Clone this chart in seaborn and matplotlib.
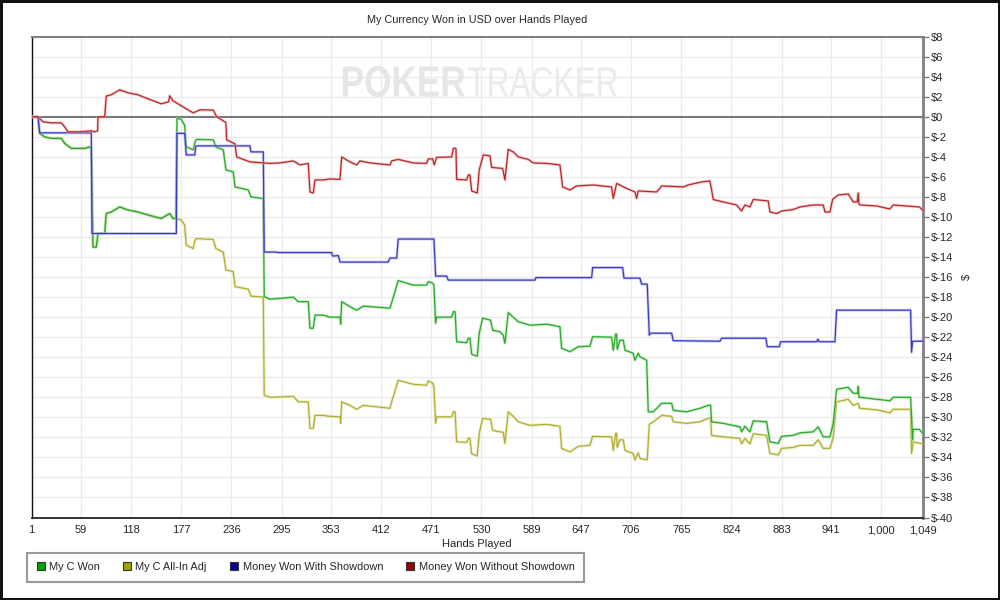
import matplotlib
matplotlib.use("Agg")
import matplotlib.pyplot as plt
import matplotlib.patheffects as pe
from matplotlib.lines import Line2D
from matplotlib.textpath import TextPath
from matplotlib.patches import PathPatch
from matplotlib.font_manager import FontProperties
from matplotlib.transforms import Affine2D
import seaborn as sns
import pandas as pd

# ---------------- data (hand number, cumulative $) ----------------
red_hands = [1, 8.4, 14.3, 24, 35.8, 39.8, 43.7, 55.5, 71.1, 75.1, 78.5, 79, 86.9, 88.7, 94.6, 104.5, 114.3, 126, 137.8,
             153.4, 162, 163.3, 167.2, 184.8, 191, 198.9, 214.6, 218.6, 228.3, 229.5, 230.3, 240.1, 242.1, 257.7, 281.3,
             293, 308.7, 316.5, 326.3, 328.3, 332.2, 334.2, 343.9, 351.8, 363.6, 365.6, 375.3, 383.2, 387.1, 398.9,
             422.4, 424.4, 432.1, 449.8, 465.5, 467.4, 472.6, 474.5, 477.3, 495, 496.9, 500, 500.8, 512.6, 514.5, 516.5,
             518.5, 525.1, 527.4, 532.1, 540, 542, 554.9, 557.6, 561.5, 567.4, 573.3, 585, 590.9, 606.7, 622.3, 625.5,
             634.1, 642, 661.5, 683.1, 685, 689, 700.8, 710.5, 712.5, 714.4, 736.1, 742, 767.4, 773.2, 788.9, 798.7,
             800.7, 802.6, 814.4, 830.1, 836, 839.9, 845.8, 849.7, 867.3, 869.3, 877.2, 883.1, 896.7, 904.6, 920.2,
             932, 934, 939.9, 943, 949.6, 961.4, 967.3, 972, 973.2, 974, 975.1, 994.8, 1010.4, 1014.3, 1030.1, 1045, 1049]
red_vals = [0, 0, -0.5, -0.6, -0.6, -1.0, -1.5, -1.5, -1.4, -1.5, -1.4, 0, 0, 2.07, 2.2, 2.7, 2.4, 2.2, 1.8,
            1.3, 1.5, 2.1, 1.6, 0.7, 0.4, 0.7, 0.67, 0, -0.5, -0.6, -2.3, -2.7, -4.0, -4.5, -4.65,
            -4.6, -4.4, -4.8, -4.65, -7.5, -7.6, -6.3, -6.3, -6.2, -6.25, -4.0, -4.5, -4.8, -4.4, -4.6,
            -4.8, -4.4, -4.25, -4.6, -4.65, -4.2, -4.2, -4.8, -4.05, -4.0, -3.15, -3.15, -6.25, -6.3, -5.8, -5.8,
            -7.4, -7.6, -5.3, -3.8, -3.9, -5.05, -5.15, -6.3, -3.25, -3.5, -4.0, -4.25, -4.6, -4.65, -4.8, -7.0,
            -7.3, -6.9, -6.8, -7.0, -8.15, -6.65, -7.15, -7.5, -8.15, -7.4, -7.5, -6.9, -7.0, -6.8, -6.5, -6.4,
            -7.3, -8.25, -8.5, -8.8, -9.4, -8.8, -9.0, -8.25, -8.4, -9.5, -9.65, -9.4, -9.25, -9.0, -8.8,
            -8.8, -9.5, -9.5, -8.25, -7.8, -7.7, -8.5, -8.5, -7.6, -8.7, -8.8, -8.9, -9.2, -8.8, -8.9, -9.0, -9.3]

blue_hands = [1, 8.4, 10.4, 71.1, 71.9, 171.1, 171.9, 180.9, 182.8, 192.7, 194.2, 257.7, 258.9, 273.4, 274.5, 289.1,
              290, 353.8, 355, 361.6, 363.6, 420.4, 422.4, 430.3, 432.1, 474.1, 476.1, 489.1, 491, 592.9, 594.1,
              659.6, 660.8, 696.1, 697.6, 716.4, 718.4, 725, 727.4, 729, 753.7, 755.6, 810.5, 812.5, 864.6, 866.1,
              880.3, 881.9, 924.2, 925.8, 927, 945.8, 947.7, 1034.8, 1035.9, 1037.1, 1049]
blue_vals = [0, 0, -1.6, -1.6, -11.65, -11.65, -1.65, -1.65, -3.8, -3.8, -2.9, -2.9, -3.5, -3.5, -13.5, -13.5,
             -13.55, -13.55, -13.9, -13.85, -14.5, -14.5, -14.1, -14.1, -12.2, -12.2, -15.9, -15.9, -16.3, -16.3, -16.05,
             -16.05, -15.05, -15.05, -16.1, -16.1, -16.7, -16.7, -21.8, -21.6, -21.6, -22.35, -22.4, -22.1, -22.1, -22.95,
             -22.95, -22.45, -22.45, -22.2, -22.45, -22.45, -19.3, -19.3, -23.5, -22.4, -22.4]

green_hands = [1, 8.4, 10.4, 16.3, 24, 35.8, 39.8, 47.6, 63.3, 69.2, 71.1, 73.1, 77, 79, 86.9, 88.7, 94.6, 104.5,
               114.3, 126, 137.8, 153.4, 163.3, 167.2, 170.4, 171.9, 176.9, 180.9, 182.8, 191, 193, 195, 214.6, 217.7,
               226.3, 229.5, 238.1, 240.1, 255.7, 258.9, 273.4, 274.5, 281.3, 296.9, 308.7, 314.5, 326.3, 328.3, 332.2,
               334.2, 343.9, 351.8, 363.6, 364.4, 365.6, 375.3, 383.2, 391, 422.4, 424.4, 432.1, 449.8, 465.5, 467.4,
               472.6, 474.1, 476.1, 477.3, 495, 496.9, 499, 500.8, 512.6, 514.5, 516.5, 518.5, 525.1, 527.4, 531.4,
               540.8, 543.2, 551.7, 555.6, 557.6, 561.5, 567.4, 573.3, 587, 606.7, 622.3, 624.3, 634.1, 643.8, 657.6,
               660.8, 683.1, 685, 687.9, 689, 689.7, 692.9, 696.8, 698.8, 708.5, 710.5, 714.4, 716.4, 724.3, 726.2,
               732.1, 742, 753.7, 755.6, 771.3, 786.9, 796.7, 799.5, 800.7, 814.4, 834, 836, 839.9, 845.8, 849.7,
               865.4, 869.3, 879.1, 883.1, 896.7, 904.6, 920.2, 926.1, 932, 939.9, 943.8, 947.7, 961.4, 967.3, 972.5,
               973.2, 974, 975.1, 994.8, 1010.4, 1014.3, 1034.8, 1035.9, 1037.1, 1037.8, 1045, 1049]
green_vals = [0, 0, -1.65, -2.0, -2.15, -2.15, -2.65, -3.15, -3.15, -3.0, -3.15, -13.0, -13.0, -11.65, -11.65, -9.65,
              -9.5, -9.0, -9.3, -9.5, -9.8, -10.15, -9.65, -10.15, -10.15, -0.15, -0.25, -0.85, -3.0, -3.3, -2.5,
              -2.25, -2.3, -3.0, -3.3, -5.3, -5.5, -7.0, -7.3, -8.0, -8.15, -17.95, -18.2, -18.1, -18.0, -18.45,
              -18.45, -21.1, -21.1, -19.8, -19.8, -20.0, -20.0, -20.7, -18.45, -18.95, -19.3, -18.9, -19.1, -18.55,
              -16.35, -16.8, -16.8, -16.45, -16.6, -16.8, -20.6, -20.0, -20.0, -19.45, -19.45, -22.45, -22.55,
              -22.1, -22.1, -23.7, -23.9, -21.6, -20.1, -20.3, -21.3, -21.45, -21.8, -22.6, -19.55, -20.0, -20.45,
              -20.8, -20.7, -20.95, -23.1, -23.45, -22.95, -22.9, -21.95, -22.0, -23.3, -21.7, -21.7, -23.2, -22.3,
              -22.3, -23.3, -23.6, -24.3, -23.6, -23.95, -24.3, -29.45, -29.45, -28.6, -28.6, -29.3, -29.45, -29.1,
              -28.8, -28.8, -30.45, -30.6, -30.95, -31.45, -30.9, -31.45, -30.35, -30.45, -32.45, -32.6, -31.9,
              -31.8, -31.55, -31.45, -30.95, -31.95, -31.95, -30.6, -27.2, -27.0, -27.6, -27.6, -26.9, -28.0, -28.0,
              -28.2, -28.35, -28.0, -28.0, -29.9, -32.25, -31.2, -31.2, -31.6]

yellow_hands = [1, 8.4, 10.4, 16.3, 24, 35.8, 39.8, 47.6, 63.3, 69.2, 71.1, 73.1, 77, 79, 86.9, 88.7, 94.6, 104.5,
                114.3, 126, 137.8, 153.4, 163.3, 167.2, 170.4, 176.9, 180.9, 182.8, 191, 193, 195, 214.6, 217.7,
                226.3, 229.5, 238.1, 240.1, 255.7, 258.9, 273.4, 274.5, 281.3, 296.9, 308.7, 314.5, 326.3, 328.3,
                332.2, 334.2, 343.9, 351.8, 363.6, 364.4, 365.6, 375.3, 383.2, 391, 422.4, 424.4, 432.1, 449.8, 465.5,
                467.4, 472.6, 474.1, 476.1, 477.3, 495, 496.9, 499, 500.8, 512.6, 514.5, 516.5, 518.5, 525.1, 527.4,
                531.4, 540.8, 543.2, 551.7, 555.6, 557.6, 561.5, 567.4, 573.3, 587, 606.7, 622.3, 624.3, 634.1, 643.8,
                657.6, 660.8, 683.1, 685, 687.9, 689, 689.7, 692.9, 696.8, 698.8, 708.5, 710.5, 714.4, 716.4, 725,
                727.4, 732.1, 742, 753.7, 755.6, 771.3, 786.9, 796.7, 799.5, 800.7, 814.4, 834, 836, 839.9, 845.8,
                849.7, 865.4, 869.3, 879.1, 883.1, 896.7, 904.6, 920.2, 926.1, 932, 939.9, 943.8, 947.7, 961.4, 967.3,
                973.2, 975.1, 994.8, 1010.4, 1014.3, 1034.8, 1035.9, 1037.8, 1049]
yellow_vals = [0, 0, -1.65, -2.0, -2.15, -2.15, -2.65, -3.15, -3.15, -3.0, -3.15, -13.0, -13.0, -11.65, -11.65, -9.65,
               -9.5, -9.0, -9.3, -9.5, -9.8, -10.15, -9.65, -10.15, -10.15, -10.3, -10.8, -12.8, -13.15, -12.3, -12.15,
               -12.25, -13.15, -13.5, -15.3, -15.45, -16.95, -17.2, -17.9, -18.0, -27.8, -28.0, -27.95, -27.9,
               -28.45, -28.45, -31.1, -31.1, -29.8, -29.8, -29.9, -29.95, -30.6, -28.45, -28.8, -29.2, -28.8, -29.1,
               -28.45, -26.3, -26.7, -26.8, -26.35, -26.6, -26.95, -30.6, -29.95, -29.95, -29.45, -29.45, -32.45,
               -32.5, -32.1, -32.1, -33.65, -33.85, -31.6, -30.1, -30.2, -31.3, -31.45, -31.5, -32.6, -29.45, -29.9,
               -30.45, -30.8, -30.7, -30.9, -33.1, -33.45, -32.9, -32.8, -31.9, -31.95, -33.3, -31.6, -31.6, -33.0,
               -32.25, -32.25, -33.3, -33.6, -34.25, -33.55, -34.1, -34.25, -30.7, -30.45, -29.8, -29.9, -30.45,
               -30.6, -30.45, -30.1, -30.1, -31.8, -31.95, -32.1, -32.65, -32.1, -32.65, -31.65, -31.8, -33.6, -33.75,
               -33.1, -33.0, -32.8, -32.8, -32.25, -33.1, -33.1, -32.0, -28.45, -28.2, -28.8, -28.6, -29.1, -29.25,
               -29.55, -29.2, -29.2, -33.6, -32.45, -32.65]

series_names = ["My C Won", "My C All-In Adj", "Money Won With Showdown", "Money Won Without Showdown"]
x_ticks = [1, 59, 118, 177, 236, 295, 353, 412, 471, 530, 589, 647, 706, 765, 824, 883, 941, 1000, 1049]
y_ticks = list(range(-40, 9, 2))

# ---------------- styling ----------------
sns.set_style("white")
plt.rcParams["font.family"] = ["Liberation Sans", "DejaVu Sans"]
plt.rcParams["font.size"] = 8

fig = plt.figure(figsize=(10, 6), dpi=100)
fig.patch.set_facecolor("white")
fig.patch.set_edgecolor("#111111")
fig.patch.set_linewidth(2.5)
ax = fig.add_axes([0.0317, 1 - 517.5 / 600, (922.7 - 31.7) / 1000, (517.5 - 36.7) / 600])


def add_watermark(text, bold, x0, x1, ytop, ybot, color):
    fp = FontProperties(family="Liberation Sans", weight="bold" if bold else "normal")
    tp = TextPath((0, 0), text, size=1, prop=fp)
    ext = tp.get_extents()
    sx = (x1 - x0) / ext.width
    sy = (ybot - ytop) / ext.height
    tr = Affine2D().translate(-ext.x0, -ext.y0).scale(sx, sy).translate(x0, 600 - ybot)
    patch = PathPatch(tr.transform_path(tp), facecolor=color, edgecolor="none", zorder=0)
    patch.set_transform(matplotlib.transforms.IdentityTransform())
    fig.patches.append(patch)


add_watermark("POKER", True, 343, 465, 66, 97, "#e6e6e6")
add_watermark("TRACKER", False, 468, 617, 67, 97, "#ebebeb")

ax.set_facecolor("none")
ax.set_xlim(1, 1049)
ax.set_ylim(-40, 8)
ax.set_xticks(x_ticks)
ax.set_xticklabels([f"{t:,}" for t in x_ticks])
ax.set_yticks(y_ticks)
ax.set_yticklabels([f"${t}" for t in y_ticks])
ax.yaxis.tick_right()
ax.yaxis.set_label_position("right")
ax.grid(True, color="#ececec", linewidth=1.0)
ax.set_axisbelow(True)
ax.tick_params(axis="x", direction="out", length=4, width=1, color="#222222", labelsize=8, pad=1.5)
ax.tick_params(axis="y", direction="out", length=4, width=1, color="#808080", labelsize=8, pad=2,
               right=True, left=False)
for side, col, lw in [("left", "#111111", 1.0), ("bottom", "#111111", 1.2), ("top", "#808080", 1.5),
                      ("right", "#808080", 2.0)]:
    ax.spines[side].set_visible(True)
    ax.spines[side].set_color(col)
    ax.spines[side].set_linewidth(lw)

ax.axhline(0, color="#7a7a7a", linewidth=1.5, zorder=1)

styles = {
    "My C All-In Adj": ("#b0b030", "#e0e0a8", yellow_hands, yellow_vals),
    "My C Won": ("#28aa28", "#a8dea8", green_hands, green_vals),
    "Money Won With Showdown": ("#3a3ac0", "#b0b0ea", blue_hands, blue_vals),
    "Money Won Without Showdown": ("#bc2628", "#e8b0b0", red_hands, red_vals),
}
for name in ["My C All-In Adj", "My C Won", "Money Won With Showdown", "Money Won Without Showdown"]:
    col, halo, xs, ys = styles[name]
    df = pd.DataFrame({"hand": xs, "won": ys})
    sns.lineplot(data=df, x="hand", y="won", ax=ax, color=col, linewidth=0.9, sort=False,
                 estimator=None, legend=False, zorder=3,
                 path_effects=[pe.Stroke(linewidth=2.1, foreground=halo, alpha=0.6), pe.Normal()])

ax.set_xlabel("Hands Played", fontsize=8, labelpad=3)
ax.set_ylabel("$", fontsize=8, labelpad=6)
fig.text(0.477, 1 - 20 / 600, "My Currency Won in USD over Hands Played", ha="center", va="center", fontsize=7.8)

legend_colors = {"My C Won": "#00a000", "My C All-In Adj": "#a0a000",
                 "Money Won With Showdown": "#0000a0", "Money Won Without Showdown": "#a00000"}
handles = [Line2D([], [], marker="s", linestyle="none", markersize=6, markerfacecolor=legend_colors[n],
                  markeredgecolor="#333333", markeredgewidth=0.8) for n in series_names]
leg = fig.legend(handles, series_names, loc="upper left", bbox_to_anchor=(0.027, 1 - 553 / 600), ncol=4,
                 frameon=True, fancybox=False, fontsize=7.9, handlelength=0.8, handletextpad=0.35,
                 columnspacing=2.1, borderpad=0.85, borderaxespad=0)
leg.get_frame().set_edgecolor("#808080")
leg.get_frame().set_linewidth(1.5)

fig.savefig("out.png", dpi=100)
